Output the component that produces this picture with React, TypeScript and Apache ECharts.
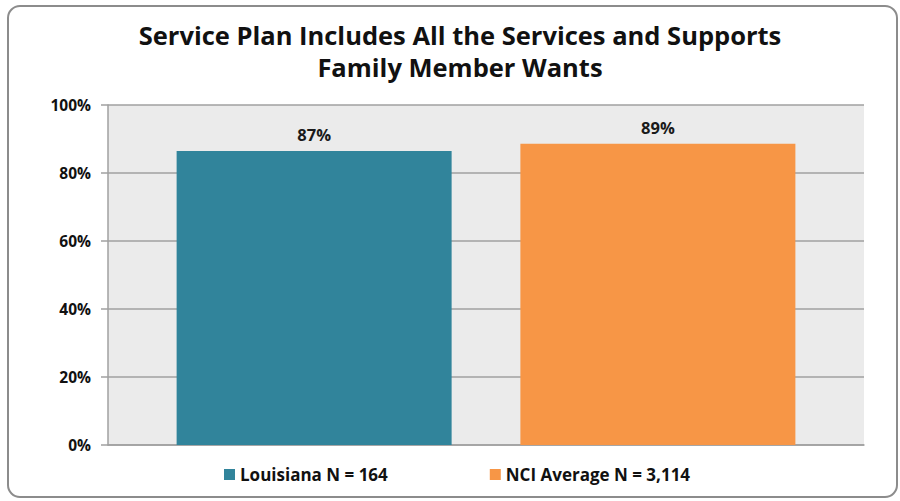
import React, { useEffect, useRef } from "react";
import * as echarts from "echarts";

const categories = ["Service Plan"];
const seriesNames = ["Louisiana N = 164", "NCI Average N = 3,114"];
const louisianaValues = [86.5];
const nciValues = [88.6];
const yTicks = [0, 20, 40, 60, 80, 100];
const titleLines = ["Service Plan Includes All the Services and Supports", "Family Member Wants"];

const FONT = "'Open Sans', 'Noto Sans', sans-serif";

export default function App() {
  const ref = useRef<HTMLDivElement>(null);
  useEffect(() => {
    if (!ref.current) return;
    const chart = echarts.init(ref.current, null, { renderer: "svg" });
    const labelCfg = {
      show: true,
      position: "top",
      distance: 8,
      formatter: (p: any) => Math.round(p.value) + "%",
      color: "#1a1a1a",
      fontFamily: FONT,
      fontWeight: "bold",
      fontSize: 16.5,
    };
    chart.setOption({
      animation: false,
      backgroundColor: "#ffffff",
      title: {
        text: titleLines.join("\n"),
        left: 455,
        textAlign: "center",
        top: 14,
        textStyle: {
          fontFamily: FONT,
          fontWeight: "bold",
          fontSize: 25.5,
          lineHeight: 32,
          color: "#111111",
        },
      },
      graphic: [
        {
          type: "rect",
          shape: { x: 8, y: 6, width: 889, height: 491, r: 12 },
          style: { fill: "none", stroke: "#8c8c8c", lineWidth: 2 },
          silent: true,
          z: 100,
        },
      ],
      legend: {
        data: seriesNames,
        bottom: 13,
        left: 219,
        itemWidth: 11,
        itemHeight: 11,
        itemGap: 102,
        icon: "rect",
        textStyle: {
          fontFamily: FONT,
          fontWeight: "bold",
          fontSize: 17,
          color: "#111111",
        },
      },
      grid: {
        left: 108,
        right: 36,
        top: 105,
        bottom: 56,
        show: true,
        backgroundColor: "#ebebeb",
        borderWidth: 0,
      },
      xAxis: {
        type: "category",
        data: categories,
        axisLabel: { show: false },
        axisTick: { show: false },
        axisLine: { show: true, lineStyle: { color: "#a0a0a0", width: 1.5 } },
      },
      yAxis: {
        type: "value",
        min: yTicks[0],
        max: yTicks[yTicks.length - 1],
        interval: 20,
        axisLabel: {
          formatter: (v: number) => v + "%",
          fontFamily: FONT,
          fontWeight: "bold",
          fontSize: 15.5,
          color: "#111111",
          margin: 17,
        },
        axisTick: { show: true, length: 7, lineStyle: { color: "#a0a0a0", width: 1.5 } },
        axisLine: { show: true, lineStyle: { color: "#a0a0a0", width: 1.5 } },
        splitLine: { show: true, lineStyle: { color: "#a0a0a0", width: 1.5 } },
      },
      series: [
        {
          name: seriesNames[0],
          type: "bar",
          data: louisianaValues,
          barWidth: 275,
          barGap: "25%",
          itemStyle: { color: "#31849b" },
          label: labelCfg,
        },
        {
          name: seriesNames[1],
          type: "bar",
          data: nciValues,
          barWidth: 275,
          barGap: "25%",
          itemStyle: { color: "#f79646" },
          label: labelCfg,
        },
      ],
    });
    return () => chart.dispose();
  }, []);
  return (
    <div
      ref={ref}
      style={{ position: "fixed", left: 0, top: 0, width: 900, height: 501 }}
    />
  );
}
